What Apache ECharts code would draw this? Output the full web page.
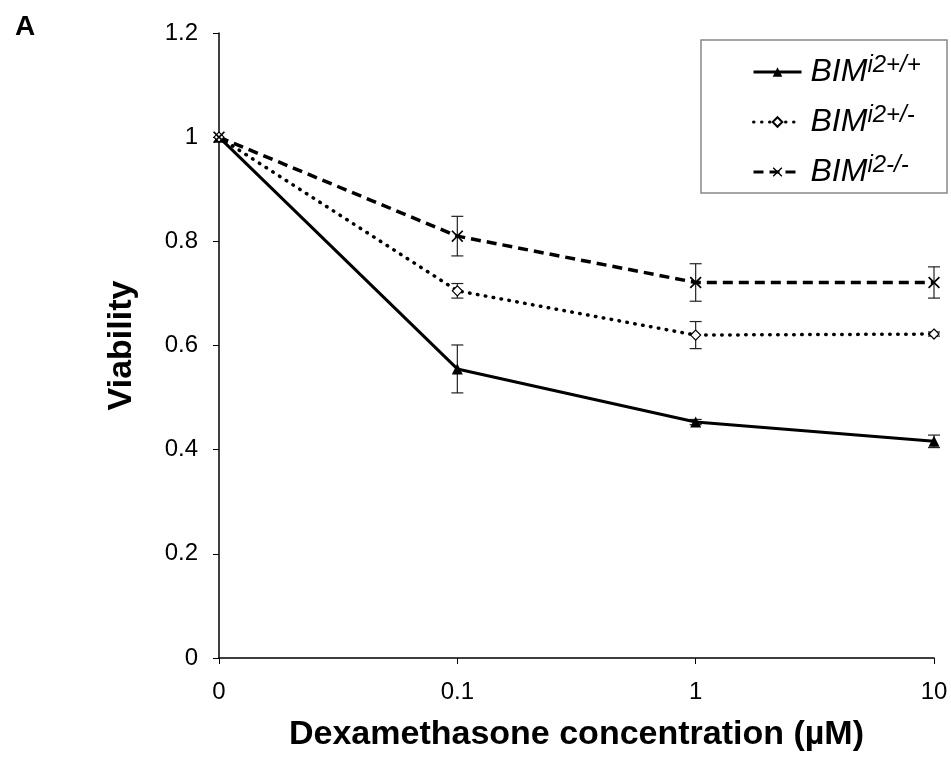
<!DOCTYPE html>
<html><head><meta charset="utf-8">
<script src="https://cdn.jsdelivr.net/npm/echarts@6/dist/echarts.min.js"></script>
<style>html,body{margin:0;padding:0;background:#fff}#c{width:951px;height:758px}</style>
</head><body><div id="c"></div>
<script>
var categories = ['0', '0.1', '1', '10'];
var wtValues = [1, 0.555, 0.453, 0.416];
var wtErr = [0, 0.046, 0.005, 0.012];
var hetValues = [1, 0.705, 0.62, 0.622];
var hetErr = [0, 0.014, 0.026, 0.004];
var koValues = [1, 0.81, 0.721, 0.721];
var koErr = [0, 0.038, 0.036, 0.03];
var seriesNames = ['BIM+/+', 'BIM+/-', 'BIM-/-'];
var seriesSup = ['i2+/+', 'i2+/-', 'i2-/-'];

function errData(vals, errs) {
  return vals.map(function (v, i) { return [i, v - errs[i], v + errs[i]]; })
    .filter(function (d, i) { return errs[i] > 0; });
}
function errSeries(vals, errs) {
  return {
    type: 'custom', silent: true, z: 1,
    data: errData(vals, errs),
    renderItem: function (params, api) {
      var x = api.value(0);
      var lo = api.coord([x, api.value(1)]);
      var hi = api.coord([x, api.value(2)]);
      var w = 6;
      var st = { stroke: '#222', lineWidth: 1.2 };
      return { type: 'group', children: [
        { type: 'line', shape: { x1: lo[0], y1: lo[1], x2: hi[0], y2: hi[1] }, style: st },
        { type: 'line', shape: { x1: lo[0] - w, y1: lo[1], x2: lo[0] + w, y2: lo[1] }, style: st },
        { type: 'line', shape: { x1: hi[0] - w, y1: hi[1], x2: hi[0] + w, y2: hi[1] }, style: st }
      ]};
    }
  };
}
var xPath = 'path://M0,1L1,0L5,4L9,0L10,1L6,5L10,9L9,10L5,6L1,10L0,9L4,5Z';

var chart = echarts.init(document.getElementById('c'), null, { renderer: 'canvas' });
var fontFam = '"Liberation Sans", Arial, sans-serif';
chart.setOption({
  animation: false,
  backgroundColor: '#fff',
  textStyle: { fontFamily: fontFam },
  grid: { left: 219, right: 17, top: 33, bottom: 100, containLabel: false },
  title: { text: 'A', left: 10, top: 8, textStyle: { fontSize: 28, fontWeight: 'bold', color: '#000', fontFamily: fontFam } },
  graphic: [{ type: 'rect', shape: { x: 701, y: 40, width: 246, height: 153 }, style: { fill: 'none', stroke: '#888', lineWidth: 1.5 }, z: 0 }],
  legend: {
    orient: 'vertical', left: 747, top: 48, itemGap: 15, itemWidth: 48, itemHeight: 12,
    data: seriesNames,
    lineStyle: { width: 3 },
    formatter: function (name) {
      var i = seriesNames.indexOf(name);
      return '{a|BIM}{b|' + seriesSup[i] + '}';
    },
    textStyle: {
      color: '#000', fontFamily: fontFam, padding: [0, 0, 0, 4],
      rich: {
        a: { fontSize: 32, fontStyle: 'italic', color: '#000', fontFamily: fontFam, lineHeight: 36 },
        b: { fontSize: 24, fontStyle: 'italic', color: '#000', fontFamily: fontFam, padding: [0, 0, 14, 0] }
      }
    }
  },
  xAxis: {
    type: 'category', data: categories, boundaryGap: false,
    name: 'Dexamethasone concentration (µM)', nameLocation: 'middle', nameGap: 60,
    nameTextStyle: { fontSize: 34, fontWeight: 'bold', color: '#000', fontFamily: fontFam },
    axisLine: { lineStyle: { color: '#000', width: 1.5 } },
    axisTick: { show: true, alignWithLabel: true, length: 6, lineStyle: { color: '#000' } },
    axisLabel: { fontSize: 24, color: '#000', margin: 22, fontFamily: fontFam },
    splitLine: { show: false }
  },
  yAxis: {
    type: 'value', min: 0, max: 1.2, interval: 0.2,
    name: 'Viability', nameLocation: 'middle', nameGap: 80, nameRotate: 90,
    nameTextStyle: { fontSize: 34, fontWeight: 'bold', color: '#000', fontFamily: fontFam },
    axisLine: { show: true, lineStyle: { color: '#000', width: 1.5 } },
    axisTick: { show: true, length: 6, lineStyle: { color: '#000' } },
    axisLabel: { fontSize: 24, color: '#000', margin: 21, fontFamily: fontFam,
      formatter: function (v) { return String(Math.round(v * 10) / 10); } },
    splitLine: { show: false }
  },
  series: [
    { name: seriesNames[0], type: 'line', data: wtValues, z: 3,
      symbol: 'triangle', symbolSize: 11,
      itemStyle: { color: '#000' },
      lineStyle: { color: '#000', width: 3 } },
    { name: seriesNames[1], type: 'line', data: hetValues, z: 3,
      symbol: 'diamond', symbolSize: 10,
      itemStyle: { color: '#fff', borderColor: '#000', borderWidth: 1.2 },
      lineStyle: { color: '#000', width: 3.5, type: [0.5, 7.5], cap: 'round' } },
    { name: seriesNames[2], type: 'line', data: koValues, z: 3,
      symbol: xPath, symbolSize: 12,
      itemStyle: { color: '#000' },
      lineStyle: { color: '#000', width: 3.5, type: [10, 6] } },
    errSeries(wtValues, wtErr),
    errSeries(hetValues, hetErr),
    errSeries(koValues, koErr)
  ]
});
</script></body></html>
